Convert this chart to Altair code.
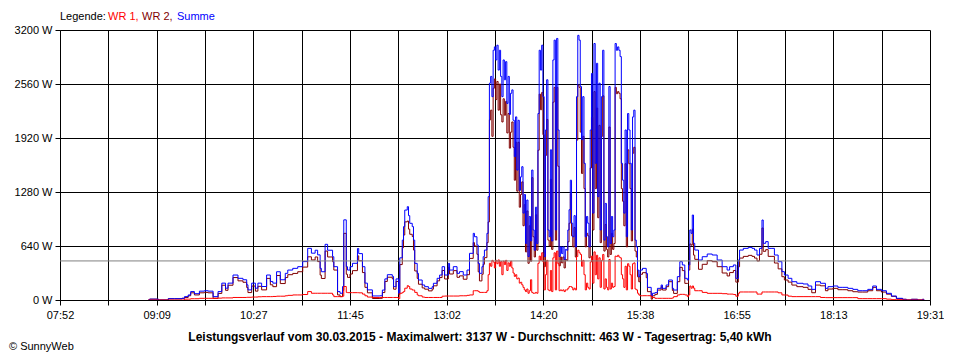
import json
import altair as alt
import pandas as pd

# ---------------- data ----------------
x_labels = ["07:52", "09:09", "10:27", "11:45", "13:02", "14:20", "15:38", "16:55", "18:13", "19:31"]
y_ticks = [0, 640, 1280, 1920, 2560, 3200]
start_min, end_min = 472, 1171          # 07:52 .. 19:31 (minute of day)
average_w = 463
title_text = ("Leistungsverlauf vom 30.03.2015 - Maximalwert: 3137 W - "
              "Durchschnitt: 463 W - Tagesertrag: 5,40 kWh")

# morning (minute of day, Summe W, WR 1 W)
morning_min = [543, 544, 550, 551, 558, 559, 564, 570, 572, 575,
               577, 580, 584, 588, 591, 595, 599, 602, 605, 607,
               611, 615, 619, 622, 623, 626, 629, 631, 634, 638,
               641, 643, 646, 649, 653, 655, 659, 663, 667, 671,
               674, 677, 679, 681, 682, 685, 687, 691, 692, 695,
               697, 699, 700, 702, 703, 705, 707, 711, 712, 715,
               717, 719, 723, 729, 731, 733, 735, 739, 740, 742,
               744, 745, 747, 748, 749, 751, 752, 753, 755, 756,
               757, 759, 760, 763, 765, 768, 771, 772, 775, 777,
               779, 781, 784, 785, 788, 791, 793, 796, 799, 801,
               804, 805, 807, 808, 809, 811, 812, 813, 815]
morning_summe = [0, 10, 10, 0, 0, 15, 15, 20, 40, 60,
                 100, 75, 105, 110, 105, 40, 100, 200, 140, 200,
                 296, 257, 240, 180, 120, 200, 140, 200, 160, 296,
                 220, 200, 335, 240, 316, 355, 375, 395, 455, 612,
                 555, 590, 535, 375, 335, 660, 590, 513, 395, 100,
                 80, 160, 950, 395, 355, 395, 435, 610, 550, 395,
                 200, 120, 48, 50, 118, 250, 300, 280, 158, 250,
                 80, 500, 710, 870, 1066, 1106, 1000, 909, 870, 710,
                 434, 316, 237, 178, 158, 138, 158, 198, 257, 296,
                 395, 296, 434, 355, 395, 316, 336, 296, 355, 553,
                 790, 750, 652, 434, 316, 395, 513, 592, 790]
morning_wr1 = [0, 0, 0, 0, 0, 0, 0, 0, 10, 10,
               15, 15, 20, 20, 20, 20, 22, 25, 25, 25,
               30, 30, 30, 32, 32, 35, 35, 38, 40, 40,
               40, 42, 45, 45, 50, 55, 60, 60, 65, 100,
               80, 80, 80, 80, 80, 80, 80, 60, 40, 40,
               40, 45, 160, 90, 87, 87, 87, 87, 85, 70,
               50, 35, 30, 30, 30, 30, 30, 30, 30, 30,
               15, 80, 90, 100, 140, 170, 160, 130, 118, 118,
               90, 60, 50, 35, 30, 30, 30, 30, 30, 30,
               45, 47, 47, 47, 47, 47, 50, 50, 55, 60,
               110, 110, 110, 100, 90, 90, 90, 90, 110]

# midday, one sample per minute from 13:36 to 15:38
noon_min = list(range(816, 939))
noon_summe = [1225, 2570, 2650, 2410, 2960, 3000, 2845, 3020, 2725, 2960,
              2650, 2410, 2845, 2610, 2825, 2330, 2650, 2200, 2450, 2490,
              2130, 1700, 2170, 1540, 2130, 1300, 1460, 1580, 1030, 1250,
              670, 1185, 515, 990, 700, 1540, 830, 590, 1100, 670,
              2210, 2960, 2725, 3020, 2410, 515, 2015, 2610, 830, 750,
              1780, 700, 2845, 3080, 830, 3100, 2015, 515, 630, 550,
              630, 480, 600, 590, 830, 1070, 1420, 910, 750, 1000,
              630, 2410, 3137, 3080, 2530, 1900, 2410, 1620, 750, 990,
              910, 630, 2015, 2685, 1030, 3040, 1620, 2805, 1225, 2570,
              830, 2410, 2960, 710, 1145, 750, 630, 2530, 670, 990,
              750, 830, 3040, 2960, 3000, 2960, 2885, 1620, 1420, 1030,
              2015, 750, 2210, 2015, 1620, 830, 2170, 2250, 710, 630,
              355, 276, 355]
noon_wr1 = [300, 435, 400, 470, 450, 380, 470, 430, 475, 400,
            455, 300, 460, 420, 470, 350, 440, 400, 460, 380,
            320, 280, 300, 250, 260, 200, 210, 180, 150, 120,
            100, 130, 80, 110, 240, 90, 80, 80, 90, 80,
            435, 520, 470, 560, 450, 120, 300, 470, 120, 110,
            350, 100, 500, 560, 120, 580, 430, 110, 120, 110,
            120, 100, 120, 120, 140, 160, 160, 150, 120, 140,
            120, 515, 590, 560, 540, 400, 470, 300, 120, 200,
            150, 130, 450, 520, 200, 570, 300, 530, 250, 500,
            150, 470, 540, 130, 250, 150, 120, 480, 130, 200,
            150, 160, 520, 515, 530, 510, 500, 300, 250, 150,
            400, 120, 430, 400, 300, 130, 430, 440, 130, 120,
            80, 60, 50]

# evening
evening_min = [940, 943, 944, 947, 948, 950, 952, 955, 956, 959,
               961, 964, 965, 968, 970, 972, 974, 976, 977, 978,
               979, 980, 981, 982, 985, 988, 992, 996, 1000, 1004,
               1008, 1010, 1013, 1015, 1017, 1018, 1021, 1025, 1028, 1030,
               1032, 1034, 1036, 1037, 1039, 1041, 1044, 1046, 1049, 1052,
               1054, 1057, 1060, 1064, 1069, 1073, 1076, 1079, 1083, 1087,
               1089, 1093, 1097, 1101, 1105, 1109, 1113, 1117, 1121, 1125,
               1128, 1132, 1136, 1140, 1144, 1149, 1152, 1156, 1161, 1165,
               1166]
evening_summe = [375, 315, 150, 50, 80, 87, 138, 178, 138, 178,
                 237, 138, 118, 277, 454, 415, 257, 237, 415, 830,
                 790, 1007, 672, 592, 474, 513, 545, 533, 474, 395,
                 355, 395, 415, 257, 474, 592, 612, 624, 612, 592,
                 533, 612, 948, 672, 692, 612, 612, 533, 454, 336,
                 296, 257, 217, 198, 190, 166, 126, 217, 198, 138,
                 158, 166, 150, 150, 138, 126, 110, 110, 126, 166,
                 126, 110, 79, 47, 20, 8, 0, 8, 0, 8,
                 0]
evening_wr1 = [51, 51, 51, 40, 30, 20, 20, 20, 20, 20,
               20, 25, 40, 60, 67, 67, 60, 40, 60, 166,
               140, 166, 140, 110, 110, 90, 79, 79, 79, 75,
               70, 70, 65, 45, 80, 95, 95, 95, 95, 95,
               70, 70, 95, 95, 95, 95, 95, 95, 85, 60,
               59, 45, 40, 40, 40, 40, 40, 40, 30, 28,
               28, 28, 28, 28, 28, 28, 16, 16, 16, 16,
               16, 16, 10, 4, 4, 0, 0, 0, 0, 0,
               0]

# ---------------- build table ----------------
t_all = morning_min + noon_min + evening_min
summe_all = morning_summe + noon_summe + evening_summe
wr1_all = morning_wr1 + noon_wr1 + evening_wr1
wr2_all = [s - r for s, r in zip(summe_all, wr1_all)]   # Summe = WR 1 + WR 2
df = pd.DataFrame({"t": t_all, "summe": summe_all, "wr1": wr1_all, "wr2": wr2_all})

FONT = "Liberation Sans"
n_steps = 18
step = (end_min - start_min) / n_steps
x_tick_values = [start_min + k * step for k in range(n_steps + 1)]
lab_arr = json.dumps(x_labels).replace('"', "'")
x_label_expr = (f"(round((datum.value-{start_min})/{step}) % 2 == 0) ? "
                f"{lab_arr}[round((datum.value-{start_min})/{step})/2] : ''")

x_enc = alt.X("t:Q",
              scale=alt.Scale(domain=[start_min, end_min], nice=False, zero=False),
              axis=alt.Axis(values=x_tick_values, labelExpr=x_label_expr, title=None,
                            grid=True, labelOverlap=False, labelFlush=False,
                            labelPadding=4))


def y_enc(field):
    return alt.Y(f"{field}:Q",
                 scale=alt.Scale(domain=[0, 3200], nice=False),
                 axis=alt.Axis(values=y_ticks, labelExpr="datum.value + ' W'",
                               title=None, grid=True, labelPadding=3))


base = alt.Chart(df)
line_wr2 = base.mark_line(color="#800000", strokeWidth=1, interpolate="step-after",
                          clip=True).encode(x=x_enc, y=y_enc("wr2"))
line_summe = base.mark_line(color="#0000FF", strokeWidth=1, interpolate="step-after",
                            clip=True).encode(x=x_enc, y=y_enc("summe"))
line_wr1 = base.mark_line(color="#FF0000", strokeWidth=1, interpolate="step-after",
                          clip=True).encode(x=x_enc, y=y_enc("wr1"))

avg_rule = alt.Chart(pd.DataFrame({"avg": [average_w]})).mark_rule(
    color="#808080", strokeWidth=1).encode(y=alt.Y("avg:Q"))


def label(text, color, x, y, bold=False, align="left", size=11):
    return alt.Chart(pd.DataFrame({"txt": [text]})).mark_text(
        align=align, baseline="alphabetic", font=FONT, fontSize=size,
        fontWeight="bold" if bold else "normal", color=color
    ).encode(text="txt:N", x=alt.value(x), y=alt.value(y))


legend_parts = [
    label("Legende:", "black", 0, -10),
    label("WR 1,", "#FF0000", 48, -10),
    label("WR 2,", "#800000", 82, -10),
    label("Summe", "#0000FF", 117, -10),
]
footer = label(title_text, "black", 420, 311, bold=True, align="center", size=12)
copyright_txt = label("\u00a9 SunnyWeb", "black", -51, 320)

chart = alt.layer(
    line_wr2, line_summe, line_wr1, avg_rule, *legend_parts, footer, copyright_txt
).properties(
    width=870, height=270,
    autosize="none",
    padding={"left": 52, "top": 22, "right": 14, "bottom": 58},
    background="white",
).configure_axis(
    domainColor="black", tickColor="black", gridColor="black", gridOpacity=1,
    gridWidth=1, tickWidth=1, domainWidth=1, tickSize=5,
    labelFont=FONT, labelFontSize=11, labelColor="black", zindex=1,
).configure_view(stroke=None)

chart.save("out.html", embed_options={"renderer": "svg", "actions": False})
